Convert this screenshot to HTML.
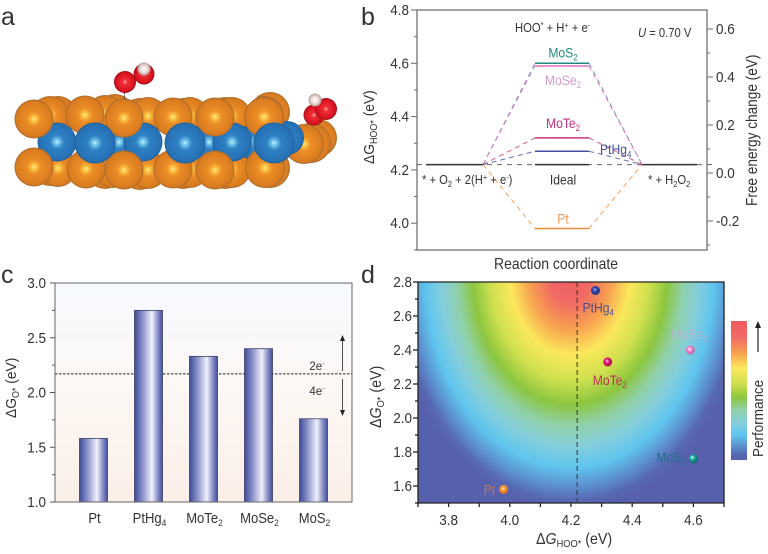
<!DOCTYPE html>
<html lang="en">
<head>
<meta charset="utf-8">
<title>ORR free energy panels</title>
<style>
html,body{margin:0;padding:0;background:#fff;}
svg{display:block;filter:blur(0.3px);}
text{font-family:"Liberation Sans",Arial,sans-serif;fill:#333;}
.sub{font-size:65%;}
</style>
</head>
<body>
<svg id="fig" xmlns="http://www.w3.org/2000/svg" width="768" height="554" viewBox="0 0 768 554">
<defs>
<radialGradient id="gOrange" cx="0.5" cy="0.5" r="0.5">
<stop offset="0" stop-color="#fff090"/><stop offset="0.14" stop-color="#fbc040"/><stop offset="0.36" stop-color="#ec8d26"/><stop offset="0.9" stop-color="#d97b1f"/><stop offset="1" stop-color="#a56a30"/>
</radialGradient>
<radialGradient id="gBlue" cx="0.5" cy="0.5" r="0.5">
<stop offset="0" stop-color="#c8f4fc"/><stop offset="0.13" stop-color="#70c4ea"/><stop offset="0.36" stop-color="#2f80c4"/><stop offset="0.92" stop-color="#2670b4"/><stop offset="1" stop-color="#1d5a90"/>
</radialGradient>
<radialGradient id="gRed" cx="0.5" cy="0.5" r="0.5">
<stop offset="0" stop-color="#ffb0b0"/><stop offset="0.22" stop-color="#f03038"/><stop offset="0.85" stop-color="#d8101e"/><stop offset="1" stop-color="#8e1218"/>
</radialGradient>
<radialGradient id="gWhite" cx="0.5" cy="0.5" r="0.5">
<stop offset="0" stop-color="#ffffff"/><stop offset="0.55" stop-color="#ecdcd6"/><stop offset="1" stop-color="#b89a94"/>
</radialGradient>
<linearGradient id="gBar" x1="0" x2="1" y1="0" y2="0">
<stop offset="0" stop-color="#3f4b98"/><stop offset="0.3" stop-color="#8f96cc"/><stop offset="0.62" stop-color="#f0f1fa"/><stop offset="0.82" stop-color="#8d94ca"/><stop offset="1" stop-color="#444f9c"/>
</linearGradient>
<linearGradient id="gPanelC" x1="0" x2="0" y1="0" y2="1">
<stop offset="0" stop-color="#f6f9fe"/><stop offset="0.45" stop-color="#fcf8f5"/><stop offset="1" stop-color="#fbefe7"/>
</linearGradient>
<radialGradient id="gHeat" gradientUnits="userSpaceOnUse" cx="0" cy="0" r="235" gradientTransform="translate(570 275) scale(0.75 1)"></radialGradient>
<linearGradient id="gCbar" x1="0" x2="0" y1="0" y2="1"></linearGradient>
<radialGradient id="gDotOrange" cx="0.42" cy="0.4" r="0.6"><stop offset="0" stop-color="#ffe9c0"/><stop offset="0.4" stop-color="#f59a35"/><stop offset="1" stop-color="#d9701a"/></radialGradient>
<radialGradient id="gDotBlue" cx="0.42" cy="0.4" r="0.6"><stop offset="0" stop-color="#a8b4ee"/><stop offset="0.4" stop-color="#2f46ac"/><stop offset="1" stop-color="#20307c"/></radialGradient>
<radialGradient id="gDotPink" cx="0.42" cy="0.4" r="0.6"><stop offset="0" stop-color="#ffc0dc"/><stop offset="0.4" stop-color="#e01a78"/><stop offset="1" stop-color="#a8104f"/></radialGradient>
<radialGradient id="gDotLilac" cx="0.42" cy="0.4" r="0.6"><stop offset="0" stop-color="#fff0fa"/><stop offset="0.4" stop-color="#e88ccc"/><stop offset="1" stop-color="#c060a8"/></radialGradient>
<radialGradient id="gDotTeal" cx="0.38" cy="0.35" r="0.65"><stop offset="0" stop-color="#d8fff8"/><stop offset="0.4" stop-color="#18a898"/><stop offset="1" stop-color="#0c6a66"/></radialGradient>
</defs>

<!-- panel letters -->
<text x="1" y="25" font-size="25">a</text>
<text x="361" y="25" font-size="25">b</text>
<text x="1" y="283" font-size="25">c</text>
<text x="361" y="283" font-size="25">d</text>

<!-- panel a -->
<g id="atoms"></g>

<!-- panel b static -->
<g>
<rect x="417" y="10" width="290" height="240" fill="none" stroke="#666" stroke-width="1.2"/>
<g id="bTicks"></g>
<g id="bLevels"></g>
<text transform="translate(374 164) rotate(-90) scale(.92 1)" font-size="15">ΔG<tspan class="sub" dy="3">HOO*</tspan><tspan dy="-3"> (eV)</tspan></text>
<text transform="translate(757 206) rotate(-90) scale(.88 1)" font-size="15.5">Free energy change (eV)</text>
<text transform="translate(556 269) scale(.9 1)" font-size="15.5" text-anchor="middle">Reaction coordinate</text>
<text transform="translate(515 32) scale(.9 1)" font-size="12.5">HOO<tspan class="sub" dy="-4">*</tspan><tspan dy="4"> + H</tspan><tspan class="sub" dy="-4">+</tspan><tspan dy="4"> + e</tspan><tspan class="sub" dy="-4">-</tspan></text>
<text transform="translate(638 37) scale(.9 1)" font-size="12.5"><tspan font-style="italic">U</tspan> = 0.70 V</text>
<text transform="translate(422 184) scale(.9 1)" font-size="12.5">* + O<tspan class="sub" dy="3">2</tspan><tspan dy="-3"> + 2(H</tspan><tspan class="sub" dy="-4">+</tspan><tspan dy="4"> + e</tspan><tspan class="sub" dy="-4">-</tspan><tspan dy="4">)</tspan></text>
<text transform="translate(648 184) scale(.9 1)" font-size="12.5">* + H<tspan class="sub" dy="3">2</tspan><tspan dy="-3">O</tspan><tspan class="sub" dy="3">2</tspan></text>
</g>

<!-- panel c static -->
<g>
<rect x="55" y="283" width="297" height="219" fill="url(#gPanelC)"/>
<g id="cBars"></g>
<path d="M55 283H352V502H55Z" fill="none" stroke="#666" stroke-width="1"/>
<g id="cAxes"></g>
<text transform="translate(16 418) rotate(-90) scale(.92 1)" font-size="15">ΔG<tspan class="sub" dy="3">O*</tspan><tspan dy="-3"> (eV)</tspan></text>
<text x="317" y="370" font-size="11.5" text-anchor="middle" fill="#444">2e<tspan class="sub" dy="-4">-</tspan></text>
<text x="317" y="395" font-size="11.5" text-anchor="middle" fill="#444">4e<tspan class="sub" dy="-4">-</tspan></text>
<path d="M342.500 371V338" stroke="#222" stroke-width="0.8" fill="none"/>
<path d="M342.500 335l-2.500 6h5z" fill="#222"/>
<path d="M342.500 379V412" stroke="#222" stroke-width="0.8" fill="none"/>
<path d="M342.500 416l-2.500 -6h5z" fill="#222"/>
</g>

<!-- panel d static -->
<g>
<rect x="418" y="282" width="306" height="221" fill="url(#gHeat)"/>
<path d="M418 282H724V503H418Z" fill="none" stroke="#222" stroke-width="1.3"/>
<g id="dAxes"></g>
<g id="dPoints"></g>
<text transform="translate(536 544) scale(.92 1)" font-size="15.500">Δ<tspan font-style="italic">G</tspan><tspan class="sub" dy="3">HOO*</tspan><tspan dy="-3"> (eV)</tspan></text>
<text transform="translate(381 428) rotate(-90) scale(.92 1)" font-size="15.500">Δ<tspan font-style="italic">G</tspan><tspan class="sub" dy="3">O*</tspan><tspan dy="-3"> (eV)</tspan></text>
<rect x="731" y="321" width="16" height="139" fill="url(#gCbar)"/>
<path d="M758 352V326" stroke="#222" stroke-width="1.200" fill="none"/>
<path d="M758 321l-3 7h6z" fill="#222"/>
<text transform="translate(763 457) rotate(-90) scale(.9 1)" font-size="15">Performance</text>
</g>
</svg>

<script>
// ---------- panel b data ----------
var levelNames = ['MoS2', 'MoSe2', 'MoTe2', 'PtHg4', 'Ideal', 'Pt'];
var levelValues = [4.60, 4.59, 4.32, 4.27, 4.22, 3.98];
var idealLevel = 4.22;
var levelColors = ['#1f8a80', '#e070c0', '#c8307e', '#44509e', '#333333', '#ee8a35'];
var leftTicks = ['4.8', '4.6', '4.4', '4.2', '4.0'];
var rightTicks = ['0.6', '0.4', '0.2', '0.0', '-0.2'];

// ---------- panel c data ----------
var barCategories = ['Pt', 'PtHg4', 'MoTe2', 'MoSe2', 'MoS2'];
var barValues = [1.58, 2.75, 2.33, 2.40, 1.76];
var barTicks = ['1.0', '1.5', '2.0', '2.5', '3.0'];
var thresholdValue = 2.17;

// ---------- panel d data ----------
var pointNames = ['Pt', 'PtHg4', 'MoTe2', 'MoSe2', 'MoS2'];
var pointHoo = [3.98, 4.28, 4.32, 4.59, 4.60];
var pointO = [1.58, 2.75, 2.33, 2.40, 1.76];
var heatXTicks = ['3.8', '4.0', '4.2', '4.4', '4.6'];
var heatYTicks = ['1.6', '1.8', '2.0', '2.2', '2.4', '2.6', '2.8'];
var idealHoo = 4.22;

var NS = 'http://www.w3.org/2000/svg';
function mk(tag, parent, attrs) {
  var el = document.createElementNS(NS, tag);
  for (var k in attrs) el.setAttribute(k, attrs[k]);
  parent.appendChild(el);
  return el;
}
function writeLabel(el, str) {
  var m = str.match(/^([A-Za-z]+)(\d)$/);
  if (!m) { el.textContent = str; return; }
  el.appendChild(document.createTextNode(m[1]));
  var s = mk('tspan', el, {'class': 'sub', dy: 3});
  s.textContent = m[2];
}

// ---------- panel a : illustration ----------
(function () {
  var g = document.getElementById('atoms');
  var list = [
    // rear sulfur
    [58,115,19,'o'],[50,115,19,'o'],[115,113,19,'o'],[105,114,19,'o'],[140,117,19,'o'],[148,116,19,'o'],[183,117,19,'o'],[190,116,19,'o'],[225,116,19,'o'],[232,116,19,'o'],[270,112,20,'o'],[265,115,19,'o'],
    [50,167,19,'o'],[58,168,19,'o'],[105,170,19,'o'],[113,169,19,'o'],[140,171,19,'o'],[148,170,19,'o'],[183,170,19,'o'],[190,169,19,'o'],[225,170,19,'o'],[232,169,19,'o'],[270,168,20,'o'],
    [318,138,19,'o'],[311,143,20,'o'],[304,144,20,'o'],
    // rear molybdenum
    [119,142,19,'b'],[209,142,19,'b'],[256,142,19,'b'],[287,138,17,'b'],
    [57,142,19.500,'b'],[143,142,19.500,'b'],[232,142,19.500,'b'],
    // top and bottom sulfur rows
    [34,119,19.500,'o'],[85,115,19.500,'o'],[124,118,19.500,'o'],[173,117,19.500,'o'],[215,117,19.500,'o'],[264,117,20,'o'],
    [34,167,19.500,'o'],[86,169,19.500,'o'],[124,170,19.500,'o'],[173,169,19.500,'o'],[215,170,19.500,'o'],[265,168,20,'o'],
    // front molybdenum
    [95,143,20.500,'b'],[185,143,20.500,'b'],[274,143,20.500,'b'],
    // adsorbates
    [144,74,10.500,'r'],[125,82,11,'r'],[144,69,6.500,'w'],
    [314,115,10.500,'r'],[326,109,11,'r'],[315,100,6.500,'w']
  ];
  var fills = {o: 'url(#gOrange)', b: 'url(#gBlue)', r: 'url(#gRed)', w: 'url(#gWhite)'};
  var labels = {o: 'sulfur-atom', b: 'molybdenum-atom', r: 'oxygen-atom', w: 'hydrogen-atom'};
  list.forEach(function (a) {
    var c = mk('circle', g, {cx: a[0], cy: a[1], r: a[2], fill: fills[a[3]]});
    
    
  });
  var bond = mk('path', g, {d: 'M124.500 93V99', stroke: '#333', 'stroke-width': 1, 'stroke-dasharray': '1.500 1', fill: 'none'});
  
  
})();

// ---------- panel b ----------
(function () {
  function y(v) { return 10 + (4.8 - v) * 266.5; }
  function r(v) { return 173 - v * 240; }
  var lg = document.getElementById('bTicks');
  var i, t, el;
  for (i = 0; i < 10; i++) {
    t = 4.8 - i * 0.1;
    var major = i % 2 === 0;
    el = mk('line', lg, {x1: 417, x2: major ? 411 : 414, y1: y(t), y2: y(t), stroke: '#666', 'stroke-width': 1});
    
    
  }
  leftTicks.forEach(function (s) {
    var tx = mk('text', lg, {transform: 'translate(409 ' + (y(parseFloat(s)) + 5) + ') scale(.9 1)', 'font-size': 15, 'text-anchor': 'end'});
    tx.textContent = s;
    
    
  });
  for (i = 0; i < 10; i++) {
    t = 0.6 - i * 0.1;
    var maj = i % 2 === 0;
    el = mk('line', lg, {x1: 707, x2: maj ? 713 : 710, y1: r(t), y2: r(t), stroke: '#666', 'stroke-width': 1});
    
    
  }
  rightTicks.forEach(function (s) {
    var v = parseFloat(s);
    var tx = mk('text', lg, {transform: 'translate(716 ' + (r(v) + 5) + ') scale(.9 1)', 'font-size': 15});
    tx.textContent = s;
    
    
  });

  var g = document.getElementById('bLevels');
  var y0 = y(idealLevel);
  var base = mk('line', g, {x1: 417, x2: 713, y1: y0, y2: y0, stroke: '#666', 'stroke-width': 1, 'stroke-dasharray': '5 5'});
  
  
  [[426, 483], [642, 697]].forEach(function (s) {
    var ln = mk('line', g, {x1: s[0], x2: s[1], y1: y0, y2: y0, stroke: '#333', 'stroke-width': 1.5});
    
    
  });
  var labelDy = {MoS2: -6, MoSe2: 19, MoTe2: -10, Ideal: 20, Pt: -5};
  var labelFill = {MoSe2: '#d59ccb', Pt: '#e89a55'};
  var connectorFill = {MoS2: '#4f7f9a'};
  levelNames.forEach(function (name, i) {
    var ly = y(levelValues[i]);
    if (name !== 'Ideal') {
      var d = mk('path', g, {d: 'M483 ' + y0 + 'L535 ' + ly + 'M589 ' + ly + 'L642 ' + y0, fill: 'none', stroke: connectorFill[name] || levelColors[i], 'stroke-width': 1, 'stroke-dasharray': '5 4', opacity: 0.8});
      
      
    }
    var l = mk('line', g, {x1: 535, x2: 589, y1: ly, y2: ly, stroke: levelColors[i], 'stroke-width': 1.5});
    
    
    var tf = name === 'PtHg4'
      ? {transform: 'translate(600 ' + (ly + 3) + ') scale(.9 1)', 'font-size': 13.5}
      : {transform: 'translate(563 ' + (ly + labelDy[name]) + ') scale(.9 1)', 'font-size': 13.5, 'text-anchor': 'middle'};
    var tx = mk('text', g, tf);
    writeLabel(tx, name);
    tx.style.fill = labelFill[name] || levelColors[i];
    
    
  });
})();

// ---------- panel c ----------
(function () {
  function y(v) { return 502 - (v - 1) * 109.500; }
  var xs = function (i) { return 93.500 + i * 55; };
  var g = document.getElementById('cBars');
  var dash = mk('line', g, {x1: 55, x2: 352, y1: y(thresholdValue), y2: y(thresholdValue), stroke: '#222', 'stroke-width': 1, 'stroke-dasharray': '2.500 1.500'});
  
  
  barCategories.forEach(function (name, i) {
    var r = mk('rect', g, {x: xs(i) - 14, y: y(barValues[i]), width: 28, height: 502 - y(barValues[i]), fill: 'url(#gBar)', stroke: '#3a3f6a', 'stroke-width': 0.8});
    
    
    var t = mk('text', document.getElementById('cAxes'), {transform: 'translate(' + (xs(i) + 1) + ' 523) scale(.9 1)', 'font-size': 14.5, 'text-anchor': 'middle'});
    writeLabel(t, name);
    
    
  });
  var a = document.getElementById('cAxes');
  barTicks.forEach(function (s) {
    var v = parseFloat(s);
    var tick = mk('line', a, {x1: 50, x2: 55, y1: y(v), y2: y(v), stroke: '#555', 'stroke-width': 1});
    
    
    if (v < 3) {
      var minor = mk('line', a, {x1: 52, x2: 55, y1: y(v + 0.25), y2: y(v + 0.25), stroke: '#555', 'stroke-width': 1});
      
      
    }
    var t = mk('text', a, {transform: 'translate(46 ' + (y(v) + 5) + ') scale(.9 1)', 'font-size': 15, 'text-anchor': 'end'});
    t.textContent = s;
    
    
  });
})();

// ---------- panel d ----------
(function () {
  var colorStops = [
    [0, '#ee5c62'], [0.12, '#f06a64'], [0.23, '#f8a050'], [0.34, '#fbe85c'], [0.45, '#cfe04e'],
    [0.55, '#8cc63f'], [0.64, '#90d0a8'], [0.73, '#84cedc'], [0.82, '#5fc5ee'], [0.9, '#5c90d0'], [0.96, '#5768b2'], [1, '#5760ac']
  ];
  colorStops.forEach(function (s) {
    mk('stop', document.getElementById('gHeat'), {offset: s[0], 'stop-color': s[1]});
    mk('stop', document.getElementById('gCbar'), {offset: s[0], 'stop-color': s[1]});
  });
  function x(v) { return 418 + (v - 3.7) * 306; }
  function y(v) { return 282 + (2.8 - v) * 170; }
  var a = document.getElementById('dAxes');
  var i, v, el;
  for (i = 0; i <= 10; i++) {
    v = 3.7 + i * 0.1;
    el = mk('line', a, {x1: x(v), x2: x(v), y1: 503, y2: 507, stroke: '#222', 'stroke-width': 1.300});
    
    
  }
  for (i = 0; i <= 13; i++) {
    v = 1.5 + i * 0.1;
    el = mk('line', a, {x1: 418, x2: (i % 2 === 1) ? 413 : 415, y1: y(v), y2: y(v), stroke: '#222', 'stroke-width': 1.300});
    
    
  }
  heatXTicks.forEach(function (s) {
    var t = mk('text', a, {transform: 'translate(' + x(parseFloat(s)) + ' 525) scale(.9 1)', 'font-size': 15, 'text-anchor': 'middle'});
    t.textContent = s;
    
    
  });
  heatYTicks.forEach(function (s) {
    var t = mk('text', a, {transform: 'translate(412 ' + (y(parseFloat(s)) + 5) + ') scale(.9 1)', 'font-size': 15, 'text-anchor': 'end'});
    t.textContent = s;
    
    
  });
  var dl = mk('line', a, {x1: x(idealHoo), x2: x(idealHoo), y1: 282, y2: 503, stroke: '#333', 'stroke-width': 1, 'stroke-dasharray': '5 3'});
  
  

  var g = document.getElementById('dPoints');
  var fills = {Pt: 'url(#gDotOrange)', PtHg4: 'url(#gDotBlue)', MoTe2: 'url(#gDotPink)', MoSe2: 'url(#gDotLilac)', MoS2: 'url(#gDotTeal)'};
  var tints = {Pt: '#b87a60', PtHg4: '#4a4f90', MoTe2: '#c0305a', MoSe2: '#b9b2d2', MoS2: '#1f6f8a'};
  var dx = {Pt: -20, PtHg4: -13, MoTe2: -15, MoSe2: -19, MoS2: -37};
  var dy = {Pt: 5, PtHg4: 22, MoTe2: 23, MoSe2: -11, MoS2: 3};
  pointNames.forEach(function (name, i) {
    var px = x(pointHoo[i]), py = y(pointO[i]);
    var c = mk('circle', g, {cx: px, cy: py, r: 4.500, fill: fills[name]});
    
    
    var t = mk('text', g, {transform: 'translate(' + (px + dx[name]) + ' ' + (py + dy[name]) + ') scale(.9 1)', 'font-size': 13.5});
    writeLabel(t, name);
    t.style.fill = tints[name];
    
    
  });
})();
</script>
</body>
</html>
